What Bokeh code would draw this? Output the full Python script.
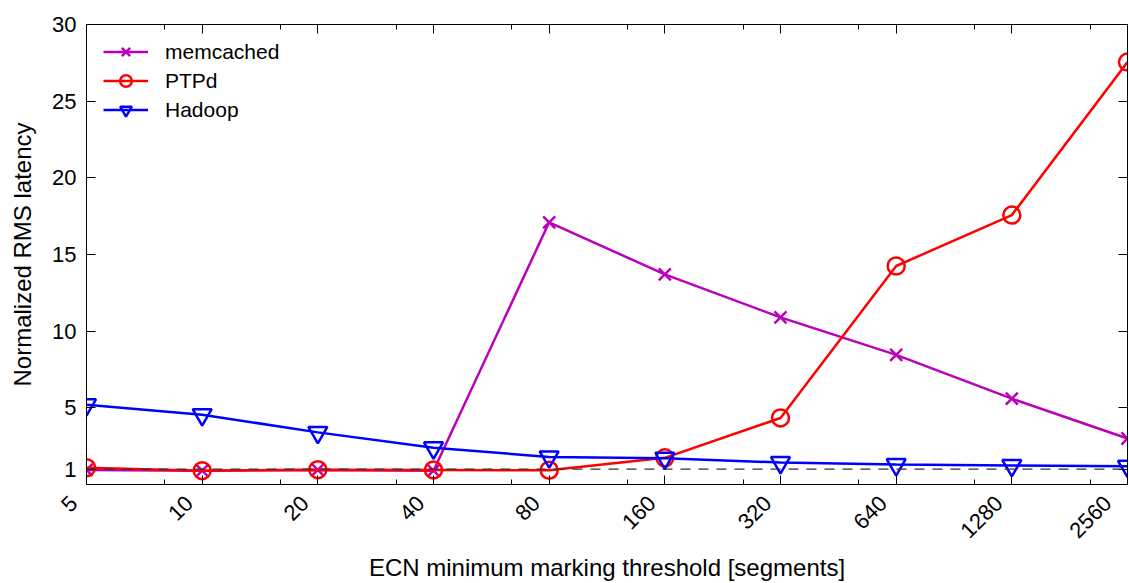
import math
from bokeh.plotting import figure
from bokeh.models import (FixedTicker, LogAxis, LinearAxis, Span, Legend, LegendItem,
                          CustomJSTickFormatter)
from bokeh.embed import file_html
from bokeh.resources import INLINE

thresholds = [5, 10, 20, 40, 80, 160, 320, 640, 1280, 2560]
threshold_labels = ["5", "10", "20", "40", "80", "160", "320", "640", "1280", "2560"]
minor_ticks = [8, 16, 32, 64, 128, 256, 512, 1024, 2048]
y_ticks = [1, 5, 10, 15, 20, 25, 30]

memcached = [0.95, 0.9, 0.95, 0.9, 17.1, 13.7, 10.9, 8.45, 5.6, 3.0]
ptpd = [1.1, 0.9, 0.97, 0.95, 0.93, 1.74, 4.34, 14.25, 17.57, 27.55]
hadoop = [5.2, 4.55, 3.4, 2.39, 1.8, 1.72, 1.43, 1.3, 1.24, 1.19]
baseline = 1

FONT = "Liberation Sans"
NBSP = "\u00a0"

p = figure(width=1129, height=583, x_axis_type="log", x_range=(5, 2560), y_range=(0, 30),
           output_backend="svg", toolbar_location=None,
           min_border_left=86, min_border_right=2, min_border_top=24, min_border_bottom=98)
p.background_fill_color = "white"
p.border_fill_color = "white"
p.outline_line_color = "black"
p.outline_line_width = 1
p.grid.visible = False

xt = FixedTicker(ticks=thresholds, minor_ticks=minor_ticks)
yt = FixedTicker(ticks=y_ticks, minor_ticks=[])
blank = CustomJSTickFormatter(code="return '';")


def style(ax):
    ax.axis_line_color = "black"
    ax.major_tick_line_color = "black"
    ax.minor_tick_line_color = "black"
    ax.major_tick_in = 9
    ax.major_tick_out = 0
    ax.minor_tick_in = 5
    ax.minor_tick_out = 0


xa = p.xaxis[0]
xa.ticker = xt
style(xa)
# trailing no-break spaces push the right-aligned rotated labels down-left of the tick
xa.major_label_overrides = {t: s + NBSP * 3 for t, s in zip(thresholds, threshold_labels)}
xa.major_label_orientation = math.pi / 4
xa.major_label_text_font = FONT
xa.major_label_text_font_size = "22px"
xa.major_label_text_color = "black"
xa.major_label_standoff = 2
xa.axis_label = "ECN minimum marking threshold [segments]"
xa.axis_label_text_font = FONT
xa.axis_label_text_font_size = "24px"
xa.axis_label_text_font_style = "normal"
xa.axis_label_text_color = "black"
xa.axis_label_standoff = -1

ya = p.yaxis[0]
ya.ticker = yt
style(ya)
ya.major_label_text_font = FONT
ya.major_label_text_font_size = "22px"
ya.major_label_text_color = "black"
ya.major_label_standoff = 10
ya.axis_label = "Normalized RMS latency"
ya.axis_label_text_font = FONT
ya.axis_label_text_font_size = "24px"
ya.axis_label_text_font_style = "normal"
ya.axis_label_text_color = "black"
ya.axis_label_standoff = 13

top = LogAxis(ticker=xt, formatter=blank, major_label_standoff=0)
style(top)
p.add_layout(top, "above")
right = LinearAxis(ticker=yt, formatter=blank, major_label_standoff=0)
style(right)
p.add_layout(right, "right")

p.add_layout(Span(location=baseline, dimension="width", line_color="#333333",
                  line_width=1.2, line_dash="10 8"))

MC = "#bb00bb"
r1l = p.line(thresholds, memcached, line_color=MC, line_width=2.5)
r1s = p.scatter(thresholds, memcached, marker="x", size=17, line_color=MC, line_width=2.5)
r2l = p.line(thresholds, ptpd, line_color="red", line_width=2.5)
r2s = p.scatter(thresholds, ptpd, marker="circle", size=17, line_color="red",
                fill_color=None, line_width=2.5)
r3l = p.line(thresholds, hadoop, line_color="blue", line_width=2.5)
r3s = p.scatter(thresholds, hadoop, marker="inverted_triangle", size=19, line_color="blue",
                fill_color=None, line_width=2.5)

legend = Legend(items=[LegendItem(label="memcached", renderers=[r1l, r1s]),
                       LegendItem(label="PTPd", renderers=[r2l, r2s]),
                       LegendItem(label="Hadoop", renderers=[r3l, r3s])],
                location=(17, 360), margin=0, padding=0, spacing=0,
                glyph_width=45, glyph_height=29, label_height=22, label_standoff=17,
                label_text_font=FONT, label_text_font_size="21px", label_text_color="black",
                border_line_color=None, background_fill_alpha=0)
p.add_layout(legend)

open("out.html", "w").write(file_html(p, INLINE))
